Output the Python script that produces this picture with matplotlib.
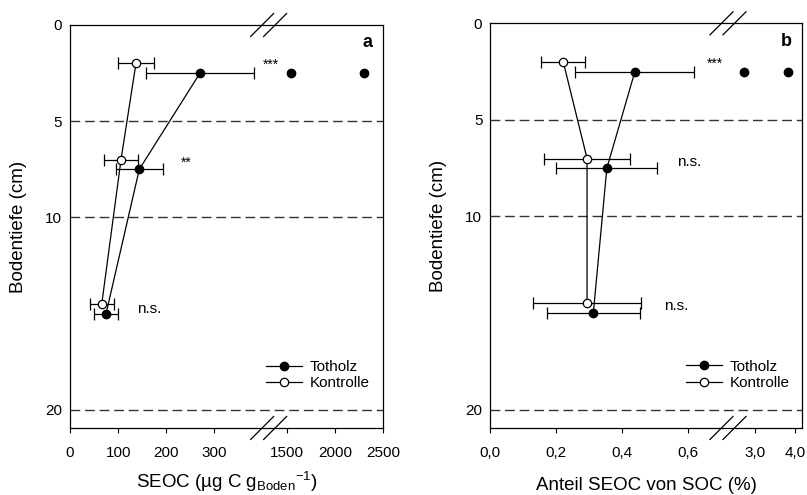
import numpy as np
import matplotlib
matplotlib.use("Agg")
import matplotlib.pyplot as plt
from matplotlib.lines import Line2D

plt.rcParams['font.family'] = ['Liberation Sans', 'DejaVu Sans']
plt.rcParams['mathtext.fontset'] = 'custom'
plt.rcParams['mathtext.rm'] = 'Liberation Sans'
plt.rcParams['mathtext.default'] = 'regular'

# depths (cm)
depth_tot = [2.5, 7.5, 15.0]
depth_kon = [2.0, 7.0, 14.5]

# SEOC (ug C / g soil)
seoc_tot = [270, 144, 75]
seoc_tot_err = [112, 49, 25]
seoc_kon = [137, 106, 66]
seoc_kon_err = [37, 35, 25]
seoc_single_x = [1550, 2300]
seoc_single_y = [2.5, 2.5]

# share of SEOC in SOC (%)
anteil_tot = [0.439, 0.354, 0.313]
anteil_tot_err = [0.180, 0.153, 0.140]
anteil_kon = [0.222, 0.294, 0.294]
anteil_kon_err = [0.067, 0.130, 0.163]
anteil_single_x = [2.73, 3.82]
anteil_single_y = [2.5, 2.5]

sig_labels_a = ["***", "**", "n.s."]
sig_pos_a = [(400, 2.3), (231, 7.38), (140, 14.95)]
sig_labels_b = ["***", "n.s.", "n.s."]
sig_pos_b = [(0.657, 2.3), (0.568, 7.38), (0.528, 14.85)]

xticks_a = [0, 100, 200, 300, 1500, 2000, 2500]
xticklabels_a = ["0", "100", "200", "300", "1500", "2000", "2500"]
xticks_b = [0.0, 0.2, 0.4, 0.6, 3.0, 4.0]
xticklabels_b = ["0,0", "0,2", "0,4", "0,6", "3,0", "4,0"]


def broken(lo, hi, k):
    # compress everything above `hi` by factor k and glue it onto `lo`
    def fwd(x):
        x = np.asarray(x, float)
        return np.where(x <= lo, x, lo + np.clip(x - hi, 0, None) * k)

    def inv(y):
        y = np.asarray(y, float)
        return np.where(y <= lo, y, hi + (y - lo) / k)
    return fwd, inv


def break_marks(ax, xfrac):
    bb = ax.get_window_extent()
    dx = 11.5 / bb.width
    dy = 11.5 / bb.height
    off = 13 / bb.width
    for yb in (0, 1):
        for s in (-off / 2, off / 2):
            ax.plot([xfrac + s - dx, xfrac + s + dx], [yb - dy, yb + dy],
                    color='black', lw=0.9, transform=ax.transAxes,
                    clip_on=False, zorder=5)


def panel(ax, tot, tot_err, kon, kon_err, sx, sy, lo, hi, k, xmax,
          xticks, xticklabels, xlabel, letter, sig_labels, sig_pos,
          ylab_x, xlab_y, leg_x):
    fwd, inv = broken(lo, hi, k)
    ax.set_xscale('function', functions=(fwd, inv))
    ax.set_xlim(0, xmax)
    ax.set_ylim(20.95, 0)

    for d in (5, 10, 20):
        ax.axhline(d, color='0.2', lw=1.0, ls=(0, (7, 3.5)), zorder=1)

    ax.errorbar(tot, depth_tot, xerr=tot_err, fmt='o-', color='black',
                mfc='black', mec='black', ms=6, lw=0.9, elinewidth=0.9,
                capsize=4, capthick=0.9, zorder=3)
    ax.errorbar(kon, depth_kon, xerr=kon_err, fmt='o-', color='black',
                mfc='white', mec='black', ms=6, mew=0.9, lw=0.9,
                elinewidth=0.9, capsize=4, capthick=0.9, zorder=3)
    ax.plot(sx, sy, 'o', color='black', ms=6, zorder=3)

    for txt, (x, y) in zip(sig_labels, sig_pos):
        fs = 10 if '*' in txt else 11
        ax.text(x, y, txt, fontsize=fs, ha='left', va='baseline')

    ax.text(0.968, 0.945, letter, transform=ax.transAxes, fontsize=13,
            fontweight='bold', ha='right', va='baseline')

    ax.set_xticks(xticks)
    ax.set_xticklabels(xticklabels)
    ax.set_yticks([0, 5, 10, 20])
    ax.set_yticklabels(["0", "5", "10", "20"])
    ax.tick_params(axis='x', direction='out', length=3.6, width=0.8,
                   labelsize=11, pad=9.5)
    ax.tick_params(axis='y', length=0, labelsize=11, pad=5.5)
    ax.minorticks_off()
    for sp in ax.spines.values():
        sp.set_linewidth(0.9)

    ax.set_xlabel(xlabel, fontsize=13.5)
    ax.set_ylabel("Bodentiefe (cm)", fontsize=13.5)
    ax.xaxis.set_label_coords(0.5, xlab_y)
    ax.yaxis.set_label_coords(ylab_x, 0.5)

    handles = [
        Line2D([], [], color='black', lw=0.9, marker='o', ms=6,
               mfc='black', mec='black'),
        Line2D([], [], color='black', lw=0.9, marker='o', ms=6,
               mfc='white', mec='black', mew=0.9),
    ]
    ax.legend(handles, ['Totholz', 'Kontrolle'], loc='upper left',
              bbox_to_anchor=(leg_x, 0.169), frameon=False, fontsize=11,
              borderpad=0, borderaxespad=0, handlelength=2.35,
              handletextpad=0.5, labelspacing=0.16)

    break_marks(ax, fwd(lo) / fwd(xmax))


fig = plt.figure(figsize=(8.07, 4.95), dpi=100)
ax_a = fig.add_axes([0.0867, 0.1354, 0.3879, 0.8141])
ax_b = fig.add_axes([0.6072, 0.1354, 0.3866, 0.8175])

panel(ax_a, seoc_tot, seoc_tot_err, seoc_kon, seoc_kon_err,
      seoc_single_x, seoc_single_y, 412.5, 1312.5, 0.2, 2500,
      xticks_a, xticklabels_a,
      r"SEOC (µg C g$_{Boden}$$^{-1}$)", "a", sig_labels_a, sig_pos_a,
      -0.137, -0.105, 0.626)
panel(ax_b, anteil_tot, anteil_tot_err, anteil_kon, anteil_kon_err,
      anteil_single_x, anteil_single_y, 0.721, 2.325, 40 / 330, 4.175,
      xticks_b, xticklabels_b,
      "Anteil SEOC von SOC (%)", "b", sig_labels_b, sig_pos_b,
      -0.138, -0.121, 0.628)

fig.savefig("out.png", dpi=100)
